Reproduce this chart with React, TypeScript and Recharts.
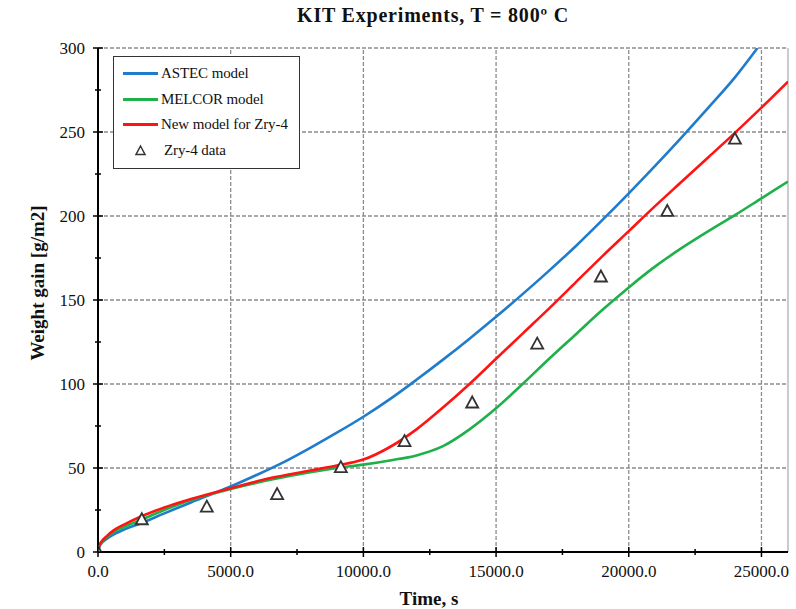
import React from 'react';
import {
  ComposedChart,
  Line,
  Scatter,
  XAxis,
  YAxis,
  ReferenceLine,
} from 'recharts';

const FONT = '"Liberation Serif", "DejaVu Serif", serif';

// values (time in s, weight gain in g/m2)
const astecData = [
  { t: 0, w: 0 }, { t: 50, w: 3 }, { t: 150, w: 5.5 }, { t: 300, w: 7.5 },
  { t: 600, w: 10.5 }, { t: 1000, w: 13.5 }, { t: 1600, w: 17 }, { t: 2500, w: 23 },
  { t: 3500, w: 29.5 }, { t: 5000, w: 39 }, { t: 6000, w: 46 }, { t: 7000, w: 53.5 },
  { t: 8000, w: 62 }, { t: 9000, w: 71 }, { t: 10000, w: 80.5 }, { t: 11000, w: 91 },
  { t: 12000, w: 102.5 }, { t: 13000, w: 114.5 }, { t: 14000, w: 127 }, { t: 15000, w: 140 },
  { t: 16000, w: 153.5 }, { t: 17000, w: 167.5 }, { t: 18000, w: 182 }, { t: 19000, w: 197.5 },
  { t: 20000, w: 213.5 }, { t: 21000, w: 230 }, { t: 22000, w: 247 }, { t: 23000, w: 264.5 },
  { t: 24000, w: 282.5 }, { t: 24850, w: 300 },
];

const melcorData = [
  { t: 0, w: 0 }, { t: 50, w: 3.5 }, { t: 150, w: 6 }, { t: 300, w: 8.5 },
  { t: 600, w: 12 }, { t: 1000, w: 15 }, { t: 1600, w: 19 }, { t: 2500, w: 25 },
  { t: 3500, w: 31 }, { t: 5000, w: 37.5 }, { t: 6500, w: 43 }, { t: 8000, w: 47.5 },
  { t: 9000, w: 50 }, { t: 10000, w: 52 }, { t: 11000, w: 54.5 }, { t: 12000, w: 57.5 },
  { t: 13000, w: 63 }, { t: 14000, w: 73 }, { t: 15000, w: 85.5 }, { t: 16000, w: 100 },
  { t: 17000, w: 115 }, { t: 18000, w: 129.5 }, { t: 19000, w: 144 }, { t: 20000, w: 157.5 },
  { t: 21000, w: 170 }, { t: 22000, w: 181 }, { t: 23000, w: 191 }, { t: 24000, w: 200.5 },
  { t: 25000, w: 210.5 }, { t: 26000, w: 220.5 },
];

const newModelData = [
  { t: 0, w: 0 }, { t: 50, w: 4 }, { t: 150, w: 6.5 }, { t: 300, w: 9 },
  { t: 600, w: 13 }, { t: 1000, w: 16.5 }, { t: 1600, w: 21 }, { t: 2500, w: 26.5 },
  { t: 3500, w: 31.5 }, { t: 5000, w: 38 }, { t: 6500, w: 44 }, { t: 8000, w: 48.5 },
  { t: 9000, w: 51.5 }, { t: 10000, w: 55 }, { t: 11000, w: 62.5 }, { t: 12000, w: 73 },
  { t: 13000, w: 86 }, { t: 14000, w: 100 }, { t: 15000, w: 115 }, { t: 16000, w: 130 },
  { t: 17000, w: 145 }, { t: 18000, w: 160.5 }, { t: 19000, w: 176 }, { t: 20000, w: 191 },
  { t: 21000, w: 206 }, { t: 22000, w: 220.5 }, { t: 23000, w: 235 }, { t: 24000, w: 249.5 },
  { t: 25000, w: 264.5 }, { t: 26000, w: 280 },
];

const zryData = [
  { t: 0, w: 0 }, { t: 1650, w: 19.5 }, { t: 4100, w: 27 }, { t: 6750, w: 34.5 },
  { t: 9150, w: 50.5 }, { t: 11550, w: 66 }, { t: 14100, w: 89 }, { t: 16550, w: 124 },
  { t: 18950, w: 164 }, { t: 21450, w: 203 }, { t: 24000, w: 246 },
];

const majorXTicks = [0, 5000, 10000, 15000, 20000, 25000];
const minorXTicks = [2500, 7500, 12500, 17500, 22500];
const majorYTicks = [0, 50, 100, 150, 200, 250, 300];
const minorYTicks = [25, 75, 125, 175, 225, 275];

const series = [
  { name: 'ASTEC model', data: astecData, color: '#1f7ccc' },
  { name: 'MELCOR model', data: melcorData, color: '#1fb04a' },
  { name: 'New model for Zry-4', data: newModelData, color: '#ff1414' },
];

const XTick = (props: any) => {
  const { x, y, payload } = props;
  const major = majorXTicks.includes(payload.value);
  const len = major ? 5 : 3;
  return (
    <g>
      <line x1={x} x2={x} y1={y - len} y2={y + len} stroke="#000" strokeWidth={1.5} />
      {major && (
        <text x={x} y={y + 25} textAnchor="middle" fontFamily={FONT} fontSize={17} fill="#111">
          {payload.value.toFixed(1)}
        </text>
      )}
    </g>
  );
};

const YTick = (props: any) => {
  const { x, y, payload } = props;
  const major = majorYTicks.includes(payload.value);
  const len = major ? 5 : 3;
  return (
    <g>
      <line x1={x - len} x2={x + len} y1={y} y2={y} stroke="#000" strokeWidth={1.5} />
      {major && (
        <text x={x - 13} y={y + 6} textAnchor="end" fontFamily={FONT} fontSize={17} fill="#111">
          {payload.value}
        </text>
      )}
    </g>
  );
};

const Triangle = (props: any) => {
  const { cx, cy } = props;
  return (
    <polygon
      points={`${cx},${cy - 6} ${cx - 6},${cy + 5} ${cx + 6},${cy + 5}`}
      fill="#fff"
      stroke="#333"
      strokeWidth={1.8}
      strokeLinejoin="miter"
    />
  );
};

const LegendBox = () => (
  <div
    style={{
      position: 'absolute',
      left: 113,
      top: 56,
      border: '1.5px solid #333',
      background: '#fff',
      width: 187,
      padding: '4px 0 5px 0',
      fontFamily: FONT,
      fontSize: 15,
      color: '#111',
      boxSizing: 'border-box',
    }}
  >
    {series.map(s => (
      <div key={s.name} style={{ display: 'flex', alignItems: 'center', height: 25.5 }}>
        <div style={{ width: 35, height: 3, background: s.color, marginLeft: 9, marginRight: 3 }} />
        <span style={{ letterSpacing: -0.1 }}>{s.name}</span>
      </div>
    ))}
    <div style={{ display: 'flex', alignItems: 'center', height: 25.5 }}>
      <svg width={47} height={12} style={{ marginRight: 3 }}>
        <polygon points="26.5,2 22,10.5 31,10.5" fill="#fff" stroke="#333" strokeWidth={1.5} />
      </svg>
      <span style={{ letterSpacing: -0.1 }}>Zry-4 data</span>
    </div>
  </div>
);

export default function App() {
  const gridX = majorXTicks.filter(v => v > 0);
  const gridY = majorYTicks.filter(v => v > 0);
  return (
    <div style={{ position: 'absolute', left: 0, top: 0, width: 796, height: 609, background: '#fff' }}>
      <ComposedChart
        width={796}
        height={609}
        margin={{ top: 48, right: 8, bottom: 27, left: 38 }}
        style={{ position: 'absolute', left: 0, top: 0 }}
      >
        <XAxis
          type="number"
          dataKey="t"
          domain={[0, 26000]}
          ticks={[...majorXTicks, ...minorXTicks].sort((a, b) => a - b)}
          tick={<XTick />}
          tickSize={0}
          tickMargin={0}
          tickLine={false}
          axisLine={{ stroke: '#000', strokeWidth: 2 }}
          height={30}
          allowDataOverflow
        />
        <YAxis
          type="number"
          dataKey="w"
          domain={[0, 300]}
          ticks={[...majorYTicks, ...minorYTicks].sort((a, b) => a - b)}
          tick={<YTick />}
          tickSize={0}
          tickMargin={0}
          tickLine={false}
          axisLine={{ stroke: '#000', strokeWidth: 2 }}
          width={60}
          allowDataOverflow
        />
        {gridX.map(v => (
          <ReferenceLine key={`gx-${v}`} x={v} stroke="#8c8c8c" strokeWidth={1.3} strokeDasharray="4 2" />
        ))}
        {gridY.map(v => (
          <ReferenceLine key={`gy-${v}`} y={v} stroke="#8c8c8c" strokeWidth={1.3} strokeDasharray="4 2" />
        ))}
        <ReferenceLine x={26000} stroke="#b0b0b0" strokeWidth={1.3} />
        {series.map(s => (
          <Line
            key={s.name}
            data={s.data}
            dataKey="w"
            name={s.name}
            type="monotone"
            stroke={s.color}
            strokeWidth={2.6}
            dot={false}
            isAnimationActive={false}
          />
        ))}
        <Scatter
          data={zryData}
          dataKey="w"
          name="Zry-4 data"
          shape={<Triangle />}
          isAnimationActive={false}
        />
      </ComposedChart>
      <LegendBox />
      <div
        style={{
          position: 'absolute',
          left: 0,
          width: 866,
          top: 4,
          textAlign: 'center',
          fontFamily: FONT,
          fontWeight: 'bold',
          fontSize: 20,
          letterSpacing: 0.8,
          color: '#111',
        }}
      >
        KIT Experiments, T = 800º C
      </div>
      <div
        style={{
          position: 'absolute',
          left: 0,
          width: 858,
          top: 588,
          textAlign: 'center',
          fontFamily: FONT,
          fontWeight: 'bold',
          fontSize: 19,
          color: '#111',
        }}
      >
        Time, s
      </div>
      <div
        style={{
          position: 'absolute',
          left: 38,
          top: 283,
          transform: 'translate(-50%, -50%) rotate(-90deg)',
          whiteSpace: 'nowrap',
          fontFamily: FONT,
          fontWeight: 'bold',
          fontSize: 19,
          color: '#111',
        }}
      >
        Weight gain [g/m2]
      </div>
    </div>
  );
}
